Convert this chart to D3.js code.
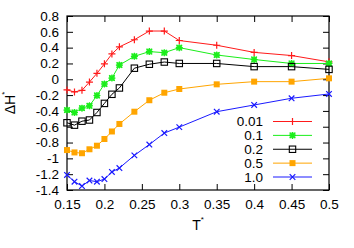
<!DOCTYPE html>
<html lang="en">
<head>
    <meta charset="UTF-8">
    <title>Delta H vs T</title>
    <script src="https://cdn.jsdelivr.net/npm/d3@7"></script>
    <style>
        body { margin: 0; background: #fff; }
        text { font-family: "Liberation Sans", Arial, sans-serif; fill: #000; }
    </style>
</head>
<body>
    <svg id="chart" width="354" height="248"></svg>

    <script>
        // temperatures (x) shared by all series
        const temps = [0.15, 0.16, 0.17, 0.18, 0.19, 0.2, 0.21, 0.22, 0.24, 0.26, 0.28, 0.3, 0.35, 0.4, 0.45, 0.5];

        // Delta H* per concentration
        const h001 = [-0.135, -0.16, -0.14, -0.035, 0.075, 0.195, 0.32, 0.41, 0.50, 0.61, 0.61, 0.49, 0.43, 0.34, 0.30, 0.22];
        const h01  = [-0.39, -0.42, -0.365, -0.335, -0.205, -0.06, 0.015, 0.18, 0.29, 0.35, 0.336, 0.40, 0.307, 0.25, 0.20, 0.20];
        const h02  = [-0.55, -0.58, -0.53, -0.515, -0.42, -0.305, -0.19, -0.11, 0.14, 0.19, 0.218, 0.20, 0.20, 0.16, 0.16, 0.125];
        const h05  = [-0.895, -0.925, -0.935, -0.885, -0.84, -0.755, -0.66, -0.565, -0.41, -0.265, -0.17, -0.123, -0.064, -0.03, -0.03, 0.012];
        const h10  = [-1.21, -1.295, -1.35, -1.28, -1.295, -1.262, -1.172, -1.122, -0.962, -0.825, -0.68, -0.605, -0.41, -0.325, -0.24, -0.186];

        const seriesNames = ['0.01', '0.1', '0.2', '0.5', '1.0'];
        const seriesValues = [h001, h01, h02, h05, h10];
        const seriesColors = ['#ff1a1a', '#1aee1a', '#000000', '#ffa500', '#1a1aff'];
        const seriesMarkers = ['plus', 'star', 'box', 'fbox', 'cross'];

        const xTicks = [0.15, 0.2, 0.25, 0.3, 0.35, 0.4, 0.45, 0.5];
        const yTicks = [0.8, 0.6, 0.4, 0.2, 0, -0.2, -0.4, -0.6, -0.8, -1, -1.2, -1.4];

        const svg = d3.select('#chart');
        const m = { left: 67, right: 329, top: 16, bottom: 190 };

        const x = d3.scaleLinear().domain([0.15, 0.5]).range([m.left, m.right]);
        const y = d3.scaleLinear().domain([-1.4, 0.8]).range([m.bottom, m.top]);

        const fmt = v => String(v);

        // axes, ticks pointing inward on all four sides
        const gl = svg.append('g').attr('transform', `translate(${m.left},0)`)
            .call(d3.axisLeft(y).tickValues(yTicks).tickFormat(fmt).tickSizeInner(-6).tickSizeOuter(0).tickPadding(8));
        const gr = svg.append('g').attr('transform', `translate(${m.right},0)`)
            .call(d3.axisRight(y).tickValues(yTicks).tickFormat('').tickSizeInner(-6).tickSizeOuter(0));
        const gb = svg.append('g').attr('transform', `translate(0,${m.bottom})`)
            .call(d3.axisBottom(x).tickValues(xTicks).tickFormat(fmt).tickSizeInner(-6).tickSizeOuter(0).tickPadding(8));
        const gt = svg.append('g').attr('transform', `translate(0,${m.top})`)
            .call(d3.axisTop(x).tickValues(xTicks).tickFormat('').tickSizeInner(-6).tickSizeOuter(0));

        [gl, gr, gb, gt].forEach(g => {
            g.select('.domain').remove();
            g.selectAll('.tick line').attr('stroke', '#000').attr('stroke-width', 1);
            g.selectAll('.tick text').attr('font-size', '13.5px')
                .attr('font-family', '"Liberation Sans", Arial, sans-serif').attr('fill', '#000');
        });
        gb.selectAll('.tick text').attr('dy', '0.85em');

        svg.append('rect')
            .attr('x', m.left).attr('y', m.top)
            .attr('width', m.right - m.left).attr('height', m.bottom - m.top)
            .attr('fill', 'none').attr('stroke', '#000').attr('stroke-width', 1.2);

        // axis titles
        const xl = svg.append('text').attr('x', (m.left + m.right) / 2).attr('y', 230)
            .attr('text-anchor', 'middle').attr('font-size', '14px').text('T');
        xl.append('tspan').attr('font-size', '8px').attr('dy', '-8').text('*');

        const yl = svg.append('text')
            .attr('transform', `translate(15,${(m.top + m.bottom) / 2}) rotate(-90)`)
            .attr('text-anchor', 'middle').attr('font-size', '14px').text('ΔH');
        yl.append('tspan').attr('font-size', '8px').attr('dy', '-8').text('*');

        function drawMarker(g, type, cx, cy, color) {
            const s = 3.5;
            if (type === 'plus' || type === 'star') {
                g.append('path').attr('d', `M${cx - s},${cy}H${cx + s}M${cx},${cy - s}V${cy + s}`)
                    .attr('stroke', color).attr('stroke-width', 1.2);
            }
            if (type === 'cross' || type === 'star') {
                const c = s * 0.8;
                g.append('path').attr('d', `M${cx - c},${cy - c}L${cx + c},${cy + c}M${cx - c},${cy + c}L${cx + c},${cy - c}`)
                    .attr('stroke', color).attr('stroke-width', 1.2);
            }
            if (type === 'star') {
                g.append('rect').attr('x', cx - 2.8).attr('y', cy - 2.8).attr('width', 5.6).attr('height', 5.6)
                    .attr('fill', color).attr('opacity', 0.8);
            }
            if (type === 'box') {
                g.append('rect').attr('x', cx - 3.2).attr('y', cy - 3.2).attr('width', 6.4).attr('height', 6.4)
                    .attr('fill', 'none').attr('stroke', color).attr('stroke-width', 1.1);
            }
            if (type === 'fbox') {
                g.append('rect').attr('x', cx - 3).attr('y', cy - 3).attr('width', 6).attr('height', 6)
                    .attr('fill', color);
            }
        }

        const line = d3.line().x(d => x(d[0])).y(d => y(d[1]));

        seriesValues.forEach((vals, i) => {
            const pts = temps.map((t, j) => [t, vals[j]]);
            const g = svg.append('g');
            g.append('path').datum(pts)
                .attr('d', line)
                .attr('fill', 'none')
                .attr('stroke', seriesColors[i])
                .attr('stroke-width', 1);
            pts.forEach(p => drawMarker(g, seriesMarkers[i], x(p[0]), y(p[1]), seriesColors[i]));
        });

        // legend
        const legY = d3.scaleLinear().domain([0, 4]).range([121.5, 177]);
        seriesNames.forEach((name, i) => {
            const ly = legY(i);
            svg.append('text').attr('x', 263).attr('y', ly).attr('dy', '0.35em')
                .attr('text-anchor', 'end').attr('font-size', '13.5px').text(name);
            svg.append('line').attr('x1', 273).attr('x2', 312).attr('y1', ly).attr('y2', ly)
                .attr('stroke', seriesColors[i]).attr('stroke-width', 1);
            drawMarker(svg.append('g'), seriesMarkers[i], 292.5, ly, seriesColors[i]);
        });
    </script>
</body>
</html>
